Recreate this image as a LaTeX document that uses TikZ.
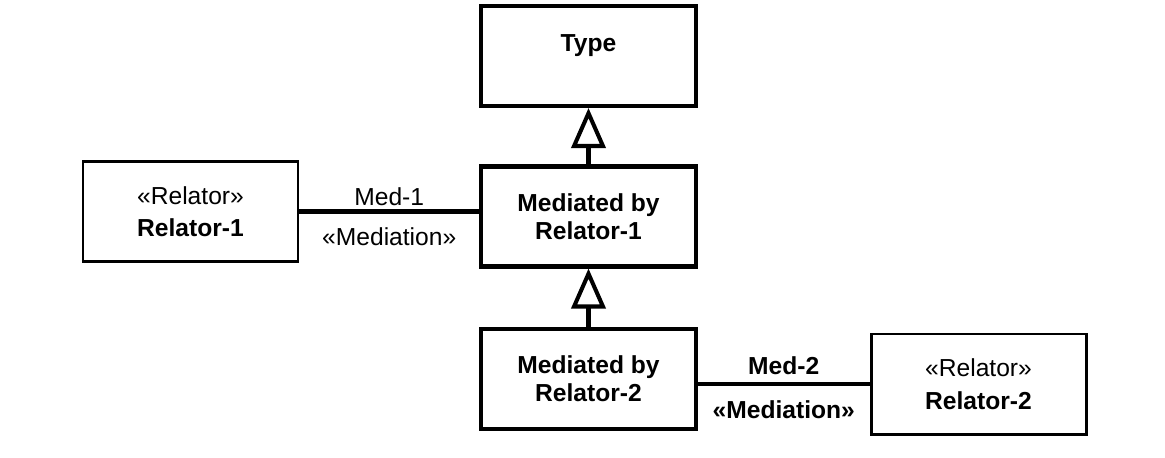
\documentclass[tikz,border=0pt]{standalone}
\usepackage{fontspec}
\setmainfont{Liberation Sans}
\usetikzlibrary{arrows.meta}

\begin{document}
\begin{tikzpicture}[
    font=\fontsize{14}{16}\selectfont,
    classbox/.style={draw, rectangle, line width=2.3pt, minimum width=4.3cm, minimum height=2cm, align=center, font=\fontsize{14}{16}\selectfont},
    relatorbox/.style={draw, rectangle, line width=1.7pt, minimum width=4.3cm, minimum height=2cm, align=center, font=\fontsize{14}{18.5}\selectfont},
    generalization/.style={line width=2.3pt, -{Triangle[open, length=0.8cm, width=0.68cm, fill=white]}},
    mediation/.style={line width=2.8pt}
  ]
        \useasboundingbox (0, 0) rectangle (23.3, 9.14);

        % Draw the class boxes
        \node[classbox] (type) at (11.77, 8.02) {};
        \node (typename) at (11.77, 8.22) {\bfseries Type};
        \node[classbox] (medby1) at (11.77, 4.81) {\bfseries Mediated by\\\bfseries Relator-1};
        \node[classbox] (medby2) at (11.77, 1.56) {\bfseries Mediated by\\\bfseries Relator-2};

        % Draw the relators
        \node[relatorbox] (relator1) at (3.81, 4.91) {«Relator»\\\bfseries Relator-1};
        \node[relatorbox] (relator2) at (19.57, 1.46) {«Relator»\\\bfseries Relator-2};

        % Draw the generalizations
        \draw[generalization] (medby1.north) -- (type.south);
        \draw[generalization] (medby2.north) -- (medby1.south);

        % Draw the mediations
        \draw[mediation] (relator1.east) -- (relator1.east -| medby1.west)
            node[midway, anchor=base, yshift=0.12cm] (med1) {Med-1}
            node[midway, anchor=base, yshift=-0.68cm] (mediation1) {«Mediation»};
        \draw[mediation] (relator2.west) -- (relator2.west -| medby2.east)
            node[midway, anchor=base, yshift=0.2cm] (med2) {\bfseries Med-2}
            node[midway, anchor=base, yshift=-0.68cm] (mediation2) {\bfseries «Mediation»};

    \end{tikzpicture}
\end{document}
